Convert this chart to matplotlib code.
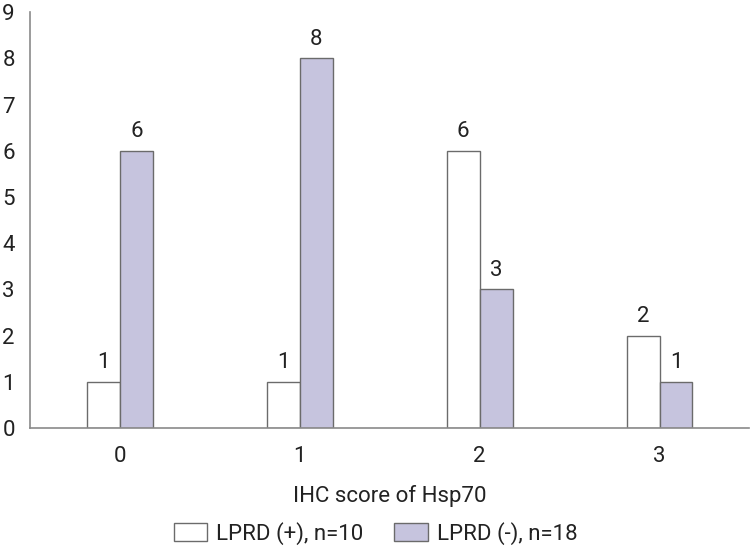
import matplotlib.pyplot as plt
import numpy as np
from matplotlib.patches import Patch

scores = ['0', '1', '2', '3']
lprd_pos = [1, 1, 6, 2]
lprd_neg = [6, 8, 3, 1]
y_ticks = list(range(0, 10))

plt.rcParams['font.family'] = ['Roboto', 'DejaVu Sans']

fig = plt.figure(figsize=(7.51, 5.53), dpi=100)
ax = fig.add_axes([0.04, 0.226, 0.958, 0.752])

x = np.arange(len(scores))
w = 0.183
edge = '#6b6b6b'
ink = '#222222'
b1 = ax.bar(x - w / 2, lprd_pos, w, color='white', edgecolor=edge, linewidth=1.0)
b2 = ax.bar(x + w / 2, lprd_neg, w, color='#c6c4de', edgecolor=edge, linewidth=1.0)

for bars in (b1, b2):
    for r in bars:
        ax.annotate(f'{r.get_height():.0f}', xy=(r.get_x() + r.get_width() / 2, r.get_height()),
                    xytext=(0, 6), textcoords='offset points',
                    ha='center', va='bottom', fontsize=16, color=ink)

ax.set_xlim(-0.5, 3.5)
ax.set_ylim(0, 9)
ax.set_xticks(x, scores)
ax.set_yticks(y_ticks)
ax.tick_params(length=0, labelsize=16, colors=ink)
ax.tick_params(axis='x', pad=13)
ax.tick_params(axis='y', pad=11)
for s in ('top', 'right'):
    ax.spines[s].set_visible(False)
for s in ('left', 'bottom'):
    ax.spines[s].set_color('#8a8a8a')
    ax.spines[s].set_linewidth(1.2)

ax.set_xlabel('IHC score of Hsp70', fontsize=16, color=ink, labelpad=13)

handles = [Patch(facecolor='white', edgecolor=edge, label='LPRD (+), n=10'),
           Patch(facecolor='#c6c4de', edgecolor=edge, label='LPRD (-), n=18')]
fig.legend(handles=handles, loc='center', bbox_to_anchor=(0.5, 0.036), ncol=2,
           frameon=False, fontsize=16, handlelength=1.5, handleheight=0.9,
           columnspacing=1.4, handletextpad=0.4, labelcolor=ink)

fig.savefig('out.png', dpi=100)
